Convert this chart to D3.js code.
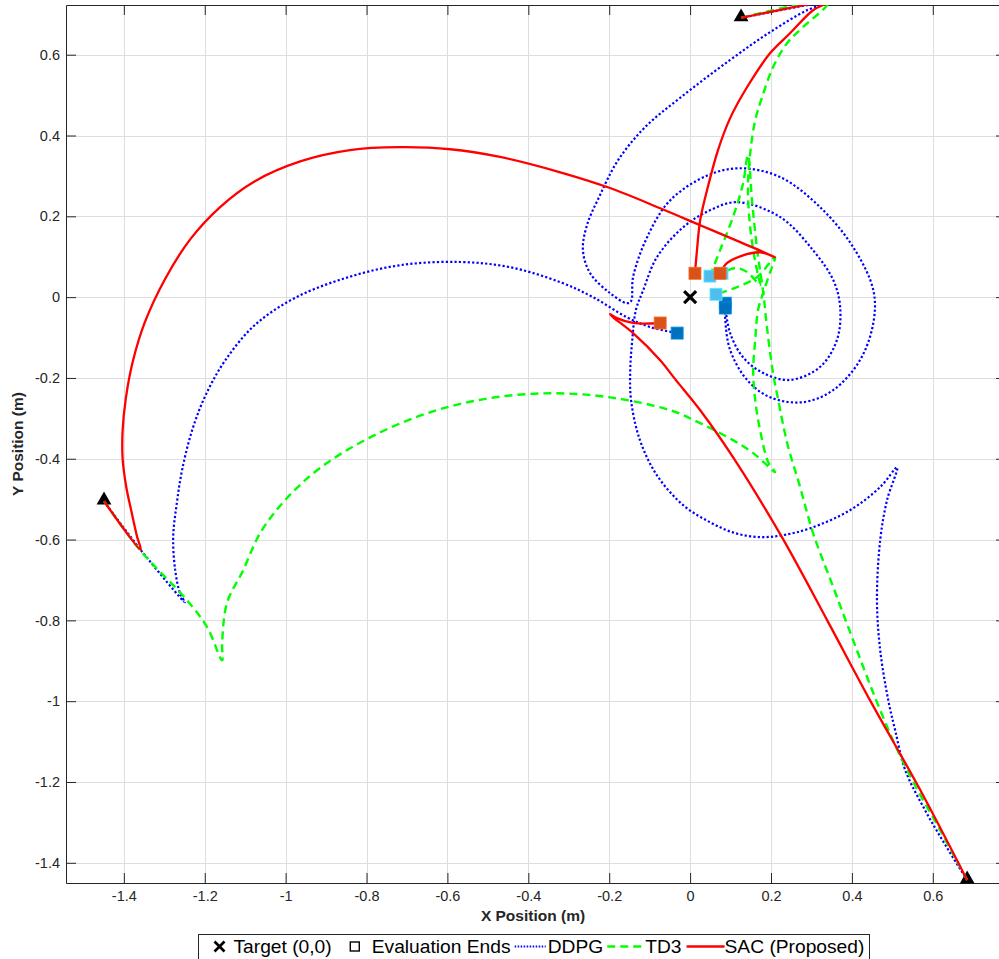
<!DOCTYPE html>
<html>
<head>
<meta charset="utf-8">
<script src="https://cdn.jsdelivr.net/npm/d3@7/dist/d3.min.js"></script>
<style>
  body { margin: 0; background: #fff; }
  svg { display: block; font-family: "Liberation Sans", Arial, Helvetica, sans-serif; }
</style>
</head>
<body>
<svg id="chart" width="999" height="959"></svg>
<script>
// ---- data (metres) ----
const xTicks = [-1.4, -1.2, -1, -0.8, -0.6, -0.4, -0.2, 0, 0.2, 0.4, 0.6];
const yTicks = [-1.4, -1.2, -1, -0.8, -0.6, -0.4, -0.2, 0, 0.2, 0.4, 0.6];
const xLimits = [-1.543, 0.781];
const yLimits = [-1.450, 0.723];

const target = [0, 0];
const startPoints = [[-1.449, -0.505], [0.126, 0.691], [0.685, -1.443]];

// DDPG evaluation trajectories
const ddpgRun1 = [[-1.449,-0.505],[-1.358,-0.626],[-1.249,-0.755],[-1.261,-0.733],[-1.273,-0.676],[-1.278,-0.594],
  [-1.269,-0.510],[-1.256,-0.428],[-1.231,-0.329],[-1.198,-0.243],[-1.149,-0.156],[-1.076,-0.069],[-0.977,-0.002],
  [-0.853,0.047],[-0.717,0.079],[-0.569,0.087],[-0.445,0.074],[-0.321,0.037],[-0.240,0.000],[-0.156,-0.050],
  [-0.099,-0.074],[-0.032,-0.089]];
const ddpgRun2 = [[0.126,0.691],[0.341,0.730],[0.289,0.710],[0.198,0.656],[0.099,0.587],[-0.025,0.493],[-0.111,0.421],
  [-0.178,0.339],[-0.223,0.252],[-0.255,0.178],[-0.265,0.116],[-0.247,0.059],[-0.198,0.010],[-0.156,-0.015],
  [-0.146,-0.010],[-0.141,0.050],[-0.106,0.149],[-0.049,0.240],[0.045,0.302],[0.124,0.319],[0.223,0.297],
  [0.321,0.223],[0.403,0.124],[0.453,0.017],[0.453,-0.064],[0.420,-0.156],[0.354,-0.230],[0.279,-0.260],
  [0.198,-0.248],[0.141,-0.205],[0.099,-0.131],[0.087,-0.057],[0.087,-0.015]];
const ddpgRun3 = [[0.685,-1.443],[0.631,-1.356],[0.581,-1.270],[0.532,-1.171],[0.507,-1.072],[0.490,-0.998],
  [0.470,-0.874],[0.462,-0.750],[0.470,-0.601],[0.487,-0.502],[0.512,-0.421],[0.470,-0.470],[0.396,-0.527],
  [0.297,-0.572],[0.230,-0.589],[0.173,-0.594],[0.111,-0.584],[0.049,-0.557],[-0.017,-0.515],[-0.082,-0.441],
  [-0.124,-0.354],[-0.146,-0.255],[-0.148,-0.181],[-0.143,-0.106],[-0.134,-0.032],[-0.116,0.017],[-0.082,0.099],
  [-0.017,0.173],[0.049,0.215],[0.116,0.235],[0.223,0.198],[0.304,0.116],[0.354,0.042],[0.371,-0.025],
  [0.363,-0.106],[0.321,-0.173],[0.247,-0.205],[0.181,-0.188],[0.131,-0.149],[0.099,-0.089],[0.087,-0.027]];

// TD3 evaluation trajectories
const td3Run1 = [[-1.449,-0.505],[-1.360,-0.626],[-1.244,-0.750],[-1.194,-0.817],[-1.157,-0.899],[-1.157,-0.856],
  [-1.145,-0.757],[-1.105,-0.676],[-1.063,-0.584],[-1.001,-0.502],[-0.915,-0.423],[-0.791,-0.347],[-0.643,-0.285],
  [-0.495,-0.250],[-0.346,-0.238],[-0.198,-0.248],[-0.049,-0.280],[0.025,-0.312],[0.106,-0.354],[0.156,-0.386],
  [0.210,-0.433],[0.193,-0.408],[0.173,-0.329],[0.161,-0.255],[0.156,-0.181],[0.161,-0.106],[0.168,-0.032],
  [0.181,0.012],[0.198,0.062],[0.210,0.099],[0.166,0.050],[0.116,0.025],[0.064,0.007]];
const td3Run2 = [[0.126,0.691],[0.341,0.730],[0.279,0.668],[0.240,0.629],[0.205,0.569],[0.178,0.495],[0.161,0.438],
  [0.148,0.351],[0.143,0.265],[0.148,0.178],[0.158,0.104],[0.168,0.054],[0.173,0.030],[0.141,0.062],
  [0.111,0.072],[0.079,0.059]];
const td3Run3 = [[0.685,-1.443],[0.618,-1.319],[0.556,-1.208],[0.507,-1.109],[0.457,-0.990],[0.403,-0.849],
  [0.354,-0.718],[0.304,-0.584],[0.272,-0.470],[0.240,-0.361],[0.218,-0.255],[0.205,-0.188],[0.190,-0.074],
  [0.181,0.010],[0.166,0.116],[0.153,0.240],[0.143,0.351],[0.131,0.282],[0.106,0.198],[0.074,0.116],[0.049,0.052]];

// SAC (proposed) evaluation trajectories
const sacRun1 = [[-1.449,-0.505],[-1.358,-0.626],[-1.367,-0.594],[-1.382,-0.527],[-1.394,-0.470],[-1.403,-0.400],
  [-1.403,-0.330],[-1.395,-0.250],[-1.378,-0.160],[-1.348,-0.062],[-1.298,0.045],[-1.236,0.143],[-1.162,0.223],
  [-1.076,0.287],[-0.964,0.336],[-0.841,0.364],[-0.717,0.371],[-0.593,0.366],[-0.470,0.347],[-0.321,0.309],
  [-0.198,0.270],[-0.074,0.220],[0.025,0.178],[0.124,0.136],[0.210,0.099],[0.173,0.111],[0.124,0.101],
  [0.091,0.084],[0.074,0.059]];
const sacRun2 = [[0.126,0.691],[0.341,0.730],[0.304,0.710],[0.247,0.653],[0.198,0.604],[0.141,0.520],[0.099,0.443],
  [0.069,0.364],[0.045,0.277],[0.025,0.191],[0.017,0.116],[0.012,0.059]];
const sacRun3 = [[0.685,-1.443],[0.569,-1.220],[0.445,-0.998],[0.339,-0.800],[0.227,-0.594],
  [0.106,-0.396],[0.025,-0.280],[-0.037,-0.203],[-0.074,-0.156],[-0.141,-0.089],[-0.190,-0.050],[-0.198,-0.042],
  [-0.181,-0.052],[-0.141,-0.064],[-0.074,-0.064]];

const ddpgRuns = [ddpgRun1, ddpgRun2, ddpgRun3];
const td3Runs = [td3Run1, td3Run2, td3Run3];
const sacRuns = [sacRun1, sacRun2, sacRun3];

// ---- layout & styles ----
const plot = { left: 66, top: 5, right: 1006, bottom: 883 };
const svg = d3.select("#chart");
svg.append("rect").attr("width", 999).attr("height", 959).attr("fill", "#fff");

const x = d3.scaleLinear().domain(xLimits).range([plot.left, plot.right]);
const y = d3.scaleLinear().domain(yLimits).range([plot.bottom, plot.top]);

const fmt = d => (Math.abs(d) < 1e-9 ? "0" : String(+d.toFixed(1)));

svg.append("defs").append("clipPath").attr("id", "plotClip")
  .append("rect").attr("x", plot.left).attr("y", plot.top)
  .attr("width", plot.right - plot.left).attr("height", plot.bottom - plot.top);

// grid
const grid = svg.append("g").attr("stroke", "#dedede").attr("stroke-width", 1);
grid.selectAll("line.gx").data(xTicks).join("line")
  .attr("x1", d => Math.round(x(d)) + 0.5).attr("x2", d => Math.round(x(d)) + 0.5)
  .attr("y1", plot.top).attr("y2", plot.bottom);
grid.selectAll("line.gy").data(yTicks).join("line")
  .attr("y1", d => Math.round(y(d)) + 0.5).attr("y2", d => Math.round(y(d)) + 0.5)
  .attr("x1", plot.left).attr("x2", plot.right);

// axes (ticks inward, box on all four sides)
const axisColor = "#262626";
const tickLen = 10;
const axB = svg.append("g").attr("transform", `translate(0,${plot.bottom})`)
  .call(d3.axisBottom(x).tickValues(xTicks).tickFormat(fmt).tickSizeInner(-tickLen).tickSizeOuter(0).tickPadding(8));
const axT = svg.append("g").attr("transform", `translate(0,${plot.top})`)
  .call(d3.axisTop(x).tickValues(xTicks).tickFormat("").tickSizeInner(-tickLen).tickSizeOuter(0));
const axL = svg.append("g").attr("transform", `translate(${plot.left},0)`)
  .call(d3.axisLeft(y).tickValues(yTicks).tickFormat(fmt).tickSizeInner(-tickLen).tickSizeOuter(0).tickPadding(6));
const axR = svg.append("g").attr("transform", `translate(${plot.right},0)`)
  .call(d3.axisRight(y).tickValues(yTicks).tickFormat("").tickSizeInner(-tickLen).tickSizeOuter(0));
[axB, axT, axL, axR].forEach(a => {
  a.select(".domain").attr("stroke", axisColor).attr("stroke-width", 1);
  a.selectAll(".tick line").attr("stroke", axisColor).attr("stroke-width", 1);
  a.selectAll(".tick text").attr("fill", axisColor).attr("font-size", 14.5)
    .attr("font-family", '"Liberation Sans", Arial, sans-serif');
});

// axis titles
svg.append("text").attr("x", (plot.left + plot.right) / 2 - 3).attr("y", 921)
  .attr("text-anchor", "middle").attr("font-weight", "bold").attr("font-size", 15.5).attr("fill", axisColor)
  .text("X Position (m)");
svg.append("text").attr("transform", `translate(23,${(plot.top + plot.bottom) / 2}) rotate(-90)`)
  .attr("text-anchor", "middle").attr("font-weight", "bold").attr("font-size", 15.5).attr("fill", axisColor)
  .text("Y Position (m)");

const line = d3.line().x(d => x(d[0])).y(d => y(d[1])).curve(d3.curveCatmullRom.alpha(0.5));

const styles = {
  ddpg: { color: "#0000ff", width: 2.2, dash: "2.2,2.2", end: "#0072BD" },
  td3:  { color: "#00ff00", width: 2.4, dash: "8,5", end: "#4DBEEE" },
  sac:  { color: "#ff0000", width: 2.3, dash: null, end: "#D95319" }
};

// start markers (markers are not clipped, only the lines are)
const tri = d3.symbol().type(d3.symbolTriangle).size(95);
svg.append("g").selectAll("path").data(startPoints).join("path")
  .attr("d", tri).attr("transform", d => `translate(${x(d[0])},${y(d[1]) - 1})`)
  .attr("fill", "#000");

const plotG = svg.append("g").attr("clip-path", "url(#plotClip)");
function drawRuns(runs, st) {
  plotG.append("g").selectAll("path").data(runs).join("path")
    .attr("d", line).attr("fill", "none")
    .attr("stroke", st.color).attr("stroke-width", st.width)
    .attr("stroke-dasharray", st.dash).attr("stroke-linejoin", "round");
}
drawRuns(ddpgRuns, styles.ddpg);
drawRuns(td3Runs, styles.td3);
drawRuns(sacRuns, styles.sac);

// evaluation end markers (last point of each run)
function drawEnds(runs, st) {
  const sq = 12;
  svg.append("g").selectAll("rect").data(runs.map(r => r[r.length - 1])).join("rect")
    .attr("x", d => x(d[0]) - sq / 2).attr("y", d => y(d[1]) - sq / 2)
    .attr("width", sq).attr("height", sq).attr("fill", st.end)
    .attr("stroke", d3.color(st.end).brighter(0.6)).attr("stroke-width", 0.8);
}
drawEnds(ddpgRuns, styles.ddpg);
drawEnds(td3Runs, styles.td3);
drawEnds(sacRuns, styles.sac);

// target
const tg = svg.append("g").attr("transform", `translate(${x(target[0])},${y(target[1])})`)
  .attr("stroke", "#000").attr("stroke-width", 3.2);
tg.append("line").attr("x1", -6).attr("y1", -6).attr("x2", 6).attr("y2", 6);
tg.append("line").attr("x1", -6).attr("y1", 6).attr("x2", 6).attr("y2", -6);

// ---- legend: one row, items flowed left to right ----
const legendBox = { left: 198.5, top: 934.5, right: 869.5 };
const lg = svg.append("g");
lg.append("rect").attr("x", legendBox.left).attr("y", legendBox.top)
  .attr("width", legendBox.right - legendBox.left).attr("height", 40)
  .attr("fill", "#fff").attr("stroke", axisColor).attr("stroke-width", 1);
const ly = 946.5;
const legendItems = [
  { kind: "cross", text: "Target (0,0)", sym: 14, gapBefore: 14, gapAfter: 7 },
  { kind: "square", text: "Evaluation Ends", sym: 10, gapBefore: 18, gapAfter: 12 },
  { kind: "ddpg", text: "DDPG", sym: 31, gapBefore: 4, gapAfter: 2 },
  { kind: "td3", text: "TD3", sym: 37, gapBefore: 4, gapAfter: 1 },
  { kind: "sac", text: "SAC (Proposed)", sym: 38, gapBefore: 5, gapAfter: 0 }
];
// measure the labels to pick a font size that fills the box
const probe = lg.append("text").attr("font-size", 10);
const lens10 = legendItems.map(d => { probe.text(d.text); return probe.node().getComputedTextLength(); });
probe.remove();
const fixed = d3.sum(legendItems, d => d.sym + d.gapBefore + d.gapAfter) + 5;
const lfont = Math.min(21, Math.max(15, (legendBox.right - legendBox.left - fixed) / (d3.sum(lens10) / 10)));
let cx = legendBox.left;
legendItems.forEach((d, i) => {
  cx += d.gapBefore;
  const s0 = cx, s1 = cx + d.sym, mid = (s0 + s1) / 2;
  if (d.kind === "cross") {
    const g = lg.append("g").attr("transform", `translate(${mid},${ly})`).attr("stroke", "#000").attr("stroke-width", 2.6);
    g.append("line").attr("x1", -5).attr("y1", -5).attr("x2", 5).attr("y2", 5);
    g.append("line").attr("x1", -5).attr("y1", 5).attr("x2", 5).attr("y2", -5);
  } else if (d.kind === "square") {
    lg.append("rect").attr("x", mid - 4.5).attr("y", ly - 4.5).attr("width", 9).attr("height", 9)
      .attr("fill", "none").attr("stroke", "#000").attr("stroke-width", 1.4);
  } else {
    const st = styles[d.kind];
    lg.append("line").attr("x1", s0).attr("x2", s1).attr("y1", ly).attr("y2", ly)
      .attr("stroke", st.color).attr("stroke-width", d.kind === "ddpg" ? 2 : st.width)
      .attr("stroke-dasharray", d.kind === "ddpg" ? "1.5,1.5" : st.dash);
  }
  cx = s1 + d.gapAfter;
  lg.append("text").attr("x", cx).attr("y", ly).attr("dy", "0.36em")
    .attr("font-size", lfont).attr("fill", "#000").text(d.text);
  cx += lens10[i] * lfont / 10;
});
</script>
</body>
</html>
